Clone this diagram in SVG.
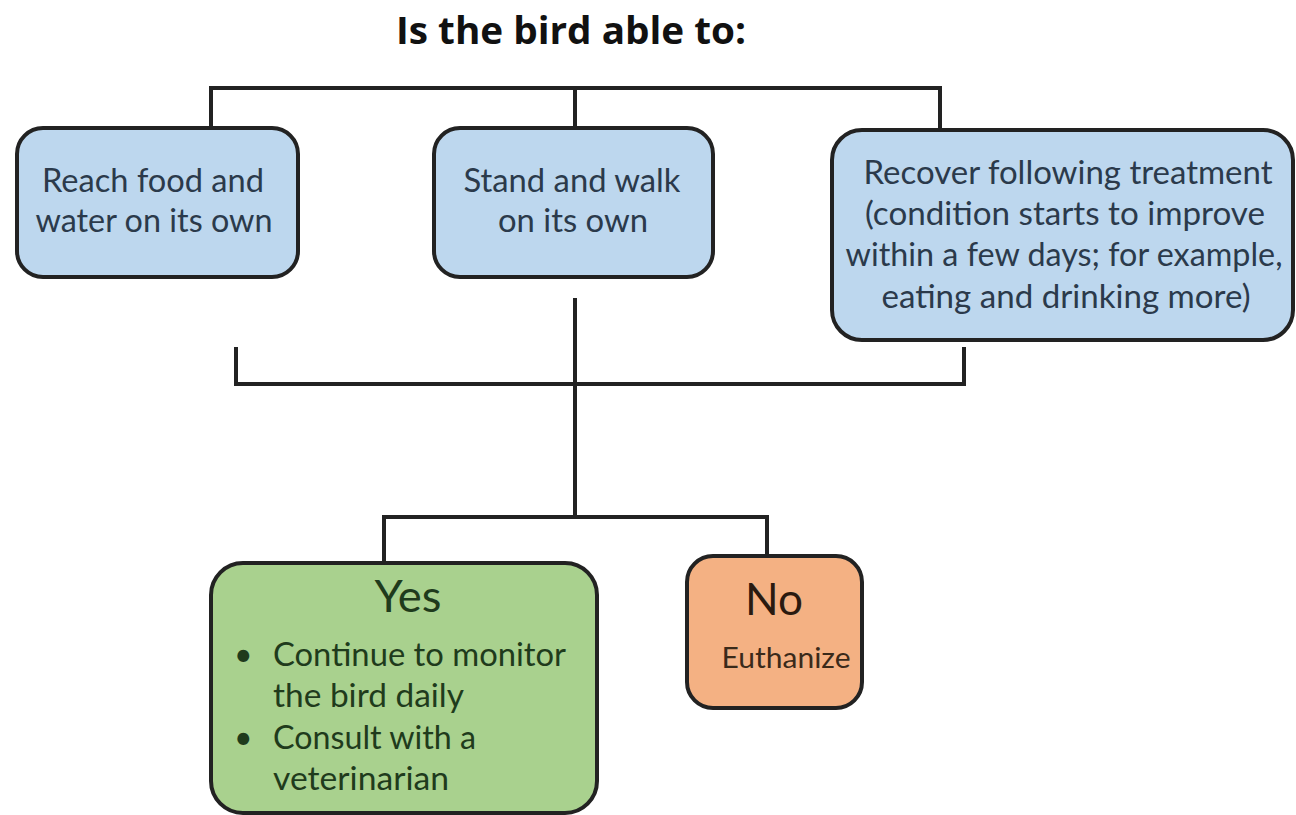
<svg xmlns="http://www.w3.org/2000/svg" width="1296" height="815" viewBox="0 0 1296 815">
<style>
.box{stroke:#222;stroke-width:4}
.blue{fill:#bdd7ee}
.green{fill:#a9d18e}
.orange{fill:#f4b183}
.conn{fill:none;stroke:#222;stroke-width:4}
text{font-family:Lato,"Open Sans","Liberation Sans",sans-serif;text-anchor:middle}
.t{font-size:32px;fill:#2b3a4b}
.g{font-size:32px;fill:#1f3b1c;text-anchor:start}
</style>
<rect width="1296" height="815" fill="#fff"/>
<text x="571" y="44" textLength="350" lengthAdjust="spacingAndGlyphs" style="font-family:'Open Sans',sans-serif;font-size:37px;font-weight:bold;fill:#111">Is the bird able to:</text>
<g id="connectors">
<path class="conn" d="M211,128 V88 H940 V130 M575,88 V128"/>
<path class="conn" d="M575,298 V515 M236,347 V384 H964 V347"/>
<path class="conn" d="M384,563 V517 H767 V556"/>
</g>
<g id="n1">
<rect class="box blue" x="17" y="128" width="281" height="149" rx="26"/>
<text class="t" x="153" y="192" textLength="222" lengthAdjust="spacingAndGlyphs">Reach food and</text>
<text class="t" x="154" y="232" textLength="237" lengthAdjust="spacingAndGlyphs">water on its own</text>
</g>
<g id="n2">
<rect class="box blue" x="434" y="128" width="279" height="149" rx="26"/>
<text class="t" x="572" y="192" textLength="217" lengthAdjust="spacingAndGlyphs">Stand and walk</text>
<text class="t" x="573" y="232" textLength="150" lengthAdjust="spacingAndGlyphs">on its own</text>
</g>
<g id="n3">
<rect class="box blue" x="832" y="130" width="461" height="210" rx="30"/>
<text class="t" x="1068" y="184" textLength="409" lengthAdjust="spacingAndGlyphs">Recover following treatment</text>
<text class="t" x="1065" y="225" textLength="400" lengthAdjust="spacingAndGlyphs">(condition starts to improve</text>
<text class="t" x="1064" y="266" textLength="437" lengthAdjust="spacingAndGlyphs">within a few days; for example,</text>
<text class="t" x="1066" y="308" textLength="369" lengthAdjust="spacingAndGlyphs">eating and drinking more)</text>
</g>
<g id="yes">
<rect class="box green" x="211" y="563" width="386" height="250" rx="32"/>
<text x="408" y="612" textLength="67" lengthAdjust="spacingAndGlyphs" style="font-size:44px;fill:#1f3b1c">Yes</text>
<text class="g" x="234" y="666">•</text>
<text class="g" x="273" y="666" textLength="293" lengthAdjust="spacingAndGlyphs">Continue to monitor</text>
<text class="g" x="273" y="707" textLength="191" lengthAdjust="spacingAndGlyphs">the bird daily</text>
<text class="g" x="234" y="749">•</text>
<text class="g" x="273" y="749" textLength="203" lengthAdjust="spacingAndGlyphs">Consult with a</text>
<text class="g" x="273" y="790" textLength="176" lengthAdjust="spacingAndGlyphs">veterinarian</text>
</g>
<g id="no">
<rect class="box orange" x="687" y="556" width="175" height="152" rx="26"/>
<text x="774" y="615" textLength="58" lengthAdjust="spacingAndGlyphs" style="font-size:44px;fill:#2a1a10">No</text>
<text x="786" y="668" textLength="129" lengthAdjust="spacingAndGlyphs" style="font-size:29px;fill:#3a2a1a">Euthanize</text>
</g>
</svg>
